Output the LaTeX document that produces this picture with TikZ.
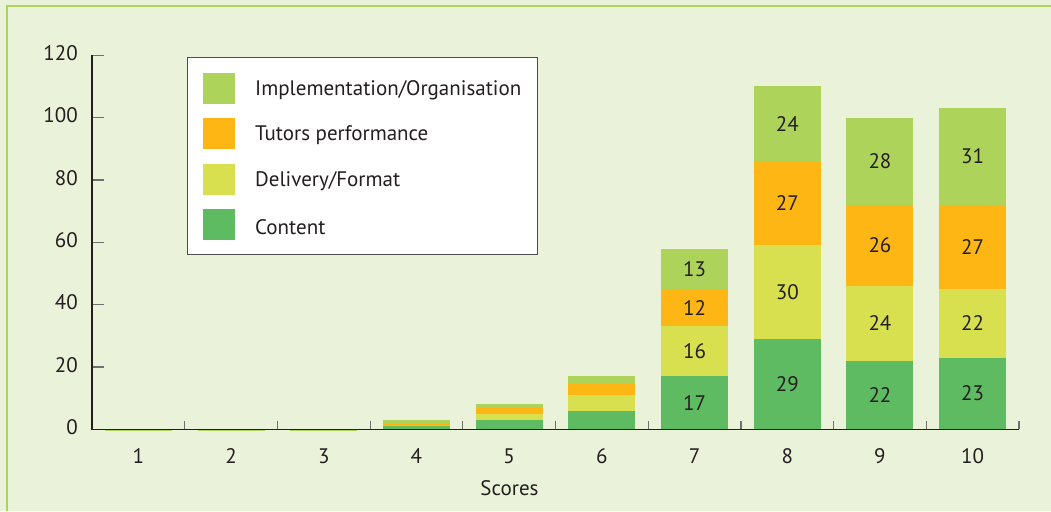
\documentclass[tikz,border=0pt]{standalone}
\usepackage{fontspec}
\setmainfont{PT Sans}
\definecolor{bg}{HTML}{EBF2DA}
\definecolor{frameg}{HTML}{AED35A}
\definecolor{cImpl}{HTML}{AED35A}
\definecolor{cTut}{HTML}{FDB614}
\definecolor{cDel}{HTML}{D8E04F}
\definecolor{cCon}{HTML}{5FBB62}
\definecolor{txt}{HTML}{231F20}
\definecolor{tickc}{HTML}{707070}
\begin{document}
\begin{tikzpicture}[x=1pt,y=-1pt,
  lbl/.style={text=txt,font=\fontsize{21}{25}\selectfont,inner sep=0pt},
  axisline/.style={draw=txt,line width=1.2pt},
  tickline/.style={draw=tickc,line width=1.2pt},
  swatch/.style={minimum width=32pt,minimum height=31pt,inner sep=0pt,draw=none}]
\useasboundingbox (0,0) rectangle (1051,511);
\fill[bg] (0,0) rectangle (1051,511);
\draw[frameg,line width=2.5pt] (7,511) -- (7,6) -- (1051,6);
% bars
\foreach \i/\a/\b/\c/\d in {1/0/0/0/0,2/0/0/0/0,3/0/0/0/0,4/1/0/1/1,5/3/2/2/1,6/6/5/4/2,7/17/16/12/13,8/29/30/27/24,9/22/24/26/28,10/23/22/27/31}{
  \pgfmathsetmacro\xc{92+(\i-0.5)*92.7}
  \pgfmathsetmacro\ya{429.3-\a*3.117}
  \pgfmathsetmacro\yb{429.3-(\a+\b)*3.117}
  \pgfmathsetmacro\yc{429.3-(\a+\b+\c)*3.117}
  \pgfmathsetmacro\yd{429.3-(\a+\b+\c+\d)*3.117}
  \fill[cCon] (\xc-33.5,429.3) rectangle (\xc+33.5,\ya);
  \fill[cDel] (\xc-33.5,\ya) rectangle (\xc+33.5,\yb);
  \fill[cTut] (\xc-33.5,\yb) rectangle (\xc+33.5,\yc);
  \fill[cImpl] (\xc-33.5,\yc) rectangle (\xc+33.5,\yd);
  \node[lbl] (xl\i) at (\xc,456) {\i};
}
\foreach \i in {1,2,3}{
  \pgfmathsetmacro\xc{92+(\i-0.5)*92.7}
  \draw[cImpl,line width=0.8pt] (\xc-33.5,430.3) -- (\xc+33.5,430.3);
}
% value labels
\foreach \i/\a/\b/\c/\d in {7/17/16/12/13,8/29/30/27/24,9/22/24/26/28,10/23/22/27/31}{
  \pgfmathsetmacro\xc{92+(\i-0.5)*92.7}
  \pgfmathsetmacro\ma{429.3-(\a/2)*3.117}
  \pgfmathsetmacro\mb{429.3-(\a+\b/2)*3.117}
  \pgfmathsetmacro\mc{429.3-(\a+\b+\c/2)*3.117}
  \pgfmathsetmacro\md{429.3-(\a+\b+\c+\d/2)*3.117}
  \node[lbl] (va\i) at (\xc,\ma) {\a};
  \node[lbl] (vb\i) at (\xc,\mb) {\b};
  \node[lbl] (vc\i) at (\xc,\mc) {\c};
  \node[lbl] (vd\i) at (\xc,\md) {\d};
}
% y axis
\foreach \v in {0,20,40,60,80,100,120}{
  \pgfmathsetmacro\yy{429.3-\v*3.117}
  \node[lbl,anchor=east] (yl\v) at (78,\yy-2) {\v};
}
\foreach \v in {20,40,60,80,100,120}{
  \pgfmathsetmacro\yy{429.3-\v*3.117}
  \draw[tickline] (92,\yy) -- (104,\yy);
}
\draw[axisline] (92,55.3) -- (92,429.3) -- (1019,429.3);
\foreach \i in {1,...,10}{
  \pgfmathsetmacro\xx{92+\i*92.7}
  \draw[tickline] (\xx,429.3) -- (\xx,421);
}
\node[lbl] (xtitle) at (509.5,488) {Scores};
% legend
\node[draw=txt!80,fill=white,line width=1pt,minimum width=350pt,minimum height=197pt,anchor=north west,inner sep=0pt] (legend) at (187,57) {};
\node[swatch,fill=cImpl,anchor=north west] (s1) at (203,73) {};
\node[swatch,fill=cTut,anchor=north west] (s2) at (203,118) {};
\node[swatch,fill=cDel,anchor=north west] (s3) at (203,164) {};
\node[swatch,fill=cCon,anchor=north west] (s4) at (203,209) {};
\node[lbl,anchor=west] (t1) at (255,90) {Implementation/Organisation};
\node[lbl,anchor=west] (t2) at (255,135) {Tutors performance};
\node[lbl,anchor=west] (t3) at (255,181) {Delivery/Format};
\node[lbl,anchor=west] (t4) at (255,227) {Content};
\end{tikzpicture}
\end{document}
